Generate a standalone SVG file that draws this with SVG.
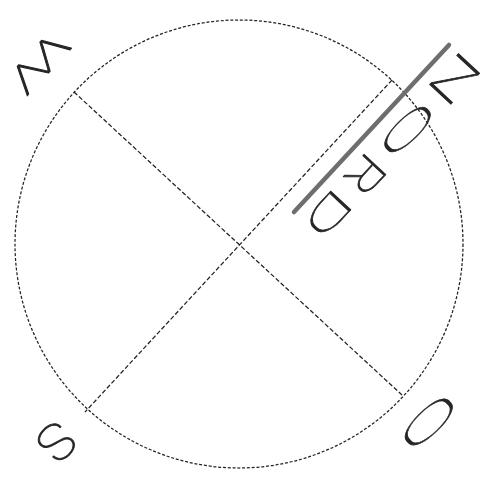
<svg xmlns="http://www.w3.org/2000/svg" width="493" height="481" viewBox="0 0 493 481">
  <style>
    .dash { fill: none; stroke: #222222; stroke-width: 1.25; }
    .circ { stroke-dasharray: 3 1.8; }
    .diag { stroke-dasharray: 4.5 2.2; }
    .lbl { font-family: Roboto, "Open Sans", "DejaVu Sans", sans-serif; font-weight: 100; font-size: 100px; fill: #262626; stroke: #262626; stroke-width: 0.9; vector-effect: non-scaling-stroke; stroke-linejoin: round; text-anchor: middle; }
  </style>
  <rect x="0" y="0" width="493" height="481" fill="#ffffff"/>
  <g id="circle">
    <circle class="dash circ" cx="239" cy="244" r="224"/>
  </g>
  <g id="connectors">
    <line class="dash diag" x1="74" y1="92" x2="402" y2="395"/>
    <line class="dash diag" x1="392" y1="80" x2="85" y2="412"/>
    <line x1="294" y1="212" x2="449" y2="45" stroke="#6e6e6e" stroke-width="4.5" stroke-linecap="round"/>
  </g>
  <g id="label-nord">
    <text class="lbl" transform="translate(454.6,79) rotate(133) scale(0.82,0.41)" x="0" y="35.5">N</text>
    <text class="lbl" transform="translate(407.5,129.5) rotate(136) scale(1.05,0.32)" x="0" y="36">O</text>
    <text class="lbl" transform="translate(365,175) rotate(133) scale(0.62,0.42)" x="0" y="35.5">R</text>
    <text class="lbl" transform="translate(328.6,213.6) rotate(133) scale(0.78,0.39)" x="0" y="35.5">D</text>
  </g>
  <g id="label-w">
    <text class="lbl" transform="translate(39.4,62.7) rotate(133) scale(0.77,0.39)" x="0" y="35.5">W</text>
  </g>
  <g id="label-s">
    <text class="lbl" transform="translate(57,442) rotate(135) scale(0.55,0.5)" x="0" y="36">S</text>
  </g>
  <g id="label-o">
    <text class="lbl" transform="translate(429,422) rotate(136) scale(1.08,0.34)" x="0" y="36">O</text>
  </g>
</svg>
